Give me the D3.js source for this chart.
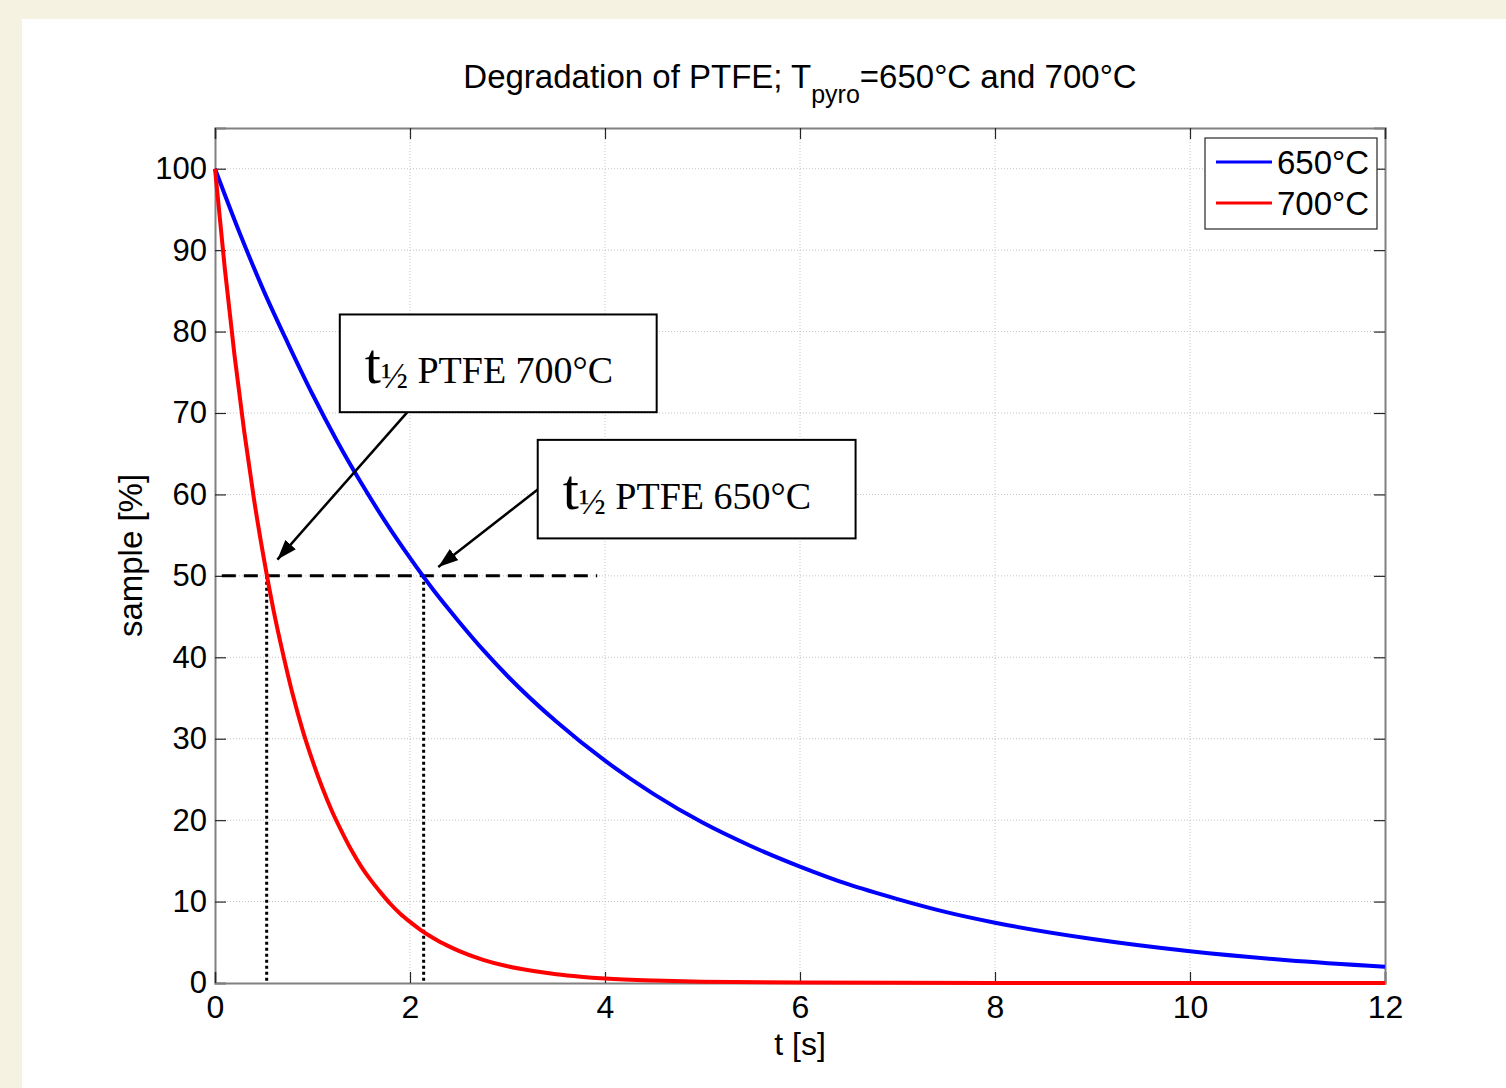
<!DOCTYPE html>
<html>
<head>
  <meta charset="utf-8">
  <script src="https://d3js.org/d3.v7.min.js"></script>
  <style>
    body { margin: 0; background: #f6f2e2; }
    #chart { position: absolute; left: 0; top: 0; }
  </style>
</head>
<body>
  <div id="chart"></div>
<script>
  // values
  const t650 = [0, 0.25, 0.5, 0.75, 1, 1.25, 1.5, 1.75, 2, 2.25, 2.5, 2.75, 3, 3.5, 4, 4.5, 5, 5.5, 6, 6.5, 7, 7.5, 8, 9, 10, 11, 12]
  const sample650 = [100, 92.2, 85, 78.5, 72.3, 66.6, 61.4, 56.6, 52.2, 48.1, 44.4, 40.9, 37.7, 32.1, 27.3, 23.2, 19.7, 16.8, 14.3, 12.1, 10.3, 8.7, 7.4, 5.4, 3.9, 2.8, 2.0]
  const t700 = [0, 0.1, 0.2, 0.3, 0.4, 0.5, 0.6, 0.7, 0.8, 0.9, 1, 1.1, 1.2, 1.3, 1.4, 1.5, 1.6, 1.7, 1.8, 1.9, 2, 2.1, 2.2, 2.3, 2.4, 2.5, 2.75, 3, 3.25, 3.5, 3.75, 4, 4.5, 5, 6, 8, 10, 12]
  const sample700 = [100, 87.8, 77.1, 67.7, 59.4, 52.2, 45.8, 40.3, 35.3, 31.0, 27.3, 24.0, 21.1, 18.6, 16.3, 14.3, 12.6, 11.1, 9.7, 8.5, 7.5, 6.6, 5.8, 5.1, 4.5, 3.95, 2.85, 2.05, 1.5, 1.08, 0.78, 0.56, 0.3, 0.15, 0.05, 0, 0, 0]
  const seriesNames = ["650°C", "700°C"]
  const seriesColors = ["#0000ff", "#ff0000"]
  const xTicks = [0, 2, 4, 6, 8, 10, 12]
  const yTicks = [0, 10, 20, 30, 40, 50, 60, 70, 80, 90, 100]
  const halfLevel = 50
  const halfLives = [0.53, 2.14]
  const dashRange = [0.07, 3.92]
  const notes = [
    { label: "PTFE 700°C", box: [1.28, 82.1, 4.53, 70.1], from: [1.98, 70.2], to: [0.64, 52.0] },
    { label: "PTFE 650°C", box: [3.31, 66.7, 6.57, 54.6], from: [3.31, 60.6], to: [2.29, 51.1] }
  ]

  const width = 1506
  const height = 1088
  const margin = { left: 215, right: 121, top: 128, bottom: 105 }

  const svg = d3.select("#chart").append("svg")
    .attr("width", width)
    .attr("height", height)
    .style("font-family", "'Liberation Sans', Arial, sans-serif")

  svg.append("rect").attr("width", width).attr("height", height).attr("fill", "#f6f2e2")
  svg.append("rect").attr("x", 22).attr("y", 19).attr("width", width - 22).attr("height", height - 19).attr("fill", "white")

  const x = d3.scaleLinear().domain([0, 12]).range([margin.left, width - margin.right])
  const y = d3.scaleLinear().domain([0, 105]).range([height - margin.bottom, margin.top])

  // grid
  svg.append("g").selectAll("line").data(xTicks.slice(1, -1)).join("line")
    .attr("x1", d => x(d)).attr("x2", d => x(d))
    .attr("y1", y(0)).attr("y2", y(105))
    .attr("stroke", "#c4c4c4").attr("stroke-dasharray", "1,2")
  svg.append("g").selectAll("line").data(yTicks.slice(1)).join("line")
    .attr("x1", x(0)).attr("x2", x(12))
    .attr("y1", d => y(d)).attr("y2", d => y(d))
    .attr("stroke", "#c4c4c4").attr("stroke-dasharray", "1,2")

  // axes with inward ticks
  const tickLen = 11
  const axisLeft = d3.axisLeft(y).tickValues(yTicks).tickSize(-tickLen).tickPadding(8)
  const axisBottom = d3.axisBottom(x).tickValues(xTicks).tickSize(-tickLen).tickPadding(12)
  const gy = svg.append("g").attr("transform", `translate(${x(0)},0)`).call(axisLeft)
  const gx = svg.append("g").attr("transform", `translate(0,${y(0)})`).call(axisBottom)
  svg.append("g").attr("transform", `translate(${x(12)},0)`)
    .call(d3.axisRight(y).tickValues(yTicks).tickSize(-tickLen).tickFormat(""))
  svg.append("g").attr("transform", `translate(0,${y(105)})`)
    .call(d3.axisTop(x).tickValues(xTicks).tickSize(-tickLen).tickFormat(""))
  svg.selectAll(".domain").attr("stroke", "#808080").attr("stroke-width", 2)
  svg.selectAll(".tick line").attr("stroke", "#262626").attr("stroke-width", 1.2)
  gy.selectAll("text").attr("font-size", 31).attr("fill", "black").attr("font-family", "'Liberation Sans', Arial")
  gx.selectAll("text").attr("font-size", 32).attr("fill", "black").attr("font-family", "'Liberation Sans', Arial")

  // half-life guides
  svg.append("line")
    .attr("x1", x(dashRange[0])).attr("x2", x(dashRange[1]))
    .attr("y1", y(halfLevel)).attr("y2", y(halfLevel))
    .attr("stroke", "black").attr("stroke-width", 3).attr("stroke-dasharray", "14,8")
  svg.append("g").selectAll("line").data(halfLives).join("line")
    .attr("x1", d => x(d)).attr("x2", d => x(d))
    .attr("y1", y(halfLevel)).attr("y2", y(0))
    .attr("stroke", "black").attr("stroke-width", 3).attr("stroke-dasharray", "3,3")

  // curves
  const line = d3.line().x(d => x(d[0])).y(d => y(d[1])).curve(d3.curveMonotoneX)
  const series = [d3.zip(t650, sample650), d3.zip(t700, sample700)]
  svg.append("g").selectAll("path").data(series).join("path")
    .attr("d", line)
    .attr("fill", "none")
    .attr("stroke", (d, i) => seriesColors[i])
    .attr("stroke-width", 4)

  // annotations
  svg.append("defs").append("marker")
    .attr("id", "head").attr("viewBox", "0 0 20 14")
    .attr("refX", 20).attr("refY", 7)
    .attr("markerWidth", 20).attr("markerHeight", 14)
    .attr("markerUnits", "userSpaceOnUse")
    .attr("orient", "auto")
    .append("path").attr("d", "M0,0 L20,7 L0,14 Z").attr("fill", "black")

  const note = svg.append("g").selectAll("g").data(notes).join("g")
  note.append("line")
    .attr("x1", d => x(d.from[0])).attr("y1", d => y(d.from[1]))
    .attr("x2", d => x(d.to[0])).attr("y2", d => y(d.to[1]))
    .attr("stroke", "black").attr("stroke-width", 2.5)
    .attr("marker-end", "url(#head)")
  note.append("rect")
    .attr("x", d => x(d.box[0])).attr("y", d => y(d.box[1]))
    .attr("width", d => x(d.box[2]) - x(d.box[0]))
    .attr("height", d => y(d.box[3]) - y(d.box[1]))
    .attr("fill", "white").attr("stroke", "black").attr("stroke-width", 2)
  const noteText = note.append("text")
    .attr("x", d => x(d.box[0]) + 25)
    .attr("y", d => y(d.box[1]) + 69)
    .attr("font-family", "'Liberation Serif', 'Times New Roman', serif")
  noteText.append("tspan").attr("font-size", 58).text("t")
  noteText.append("tspan").attr("font-size", 36).attr("dy", 5).text("½")
  noteText.append("tspan").attr("font-size", 38).attr("dy", -5).text(d => " " + d.label)

  // legend
  const legend = svg.append("g")
  legend.append("rect")
    .attr("x", 1205).attr("y", 138).attr("width", 172).attr("height", 91)
    .attr("fill", "white").attr("stroke", "#262626").attr("stroke-width", 1.2)
  const entry = legend.selectAll("g").data(seriesNames).join("g")
    .attr("transform", (d, i) => `translate(1216,${162 + i * 41})`)
  entry.append("line").attr("x1", 0).attr("x2", 56)
    .attr("stroke", (d, i) => seriesColors[i]).attr("stroke-width", 3)
  entry.append("text").attr("x", 61).attr("dy", "0.36em")
    .attr("font-size", 33).text(d => d)

  // title and axis labels
  const title = svg.append("text")
    .attr("x", x(6)).attr("y", 88)
    .attr("text-anchor", "middle").attr("font-size", 33)
  title.append("tspan").text("Degradation of PTFE; T")
  title.append("tspan").attr("font-size", 25).attr("dy", 15).text("pyro")
  title.append("tspan").attr("dy", -15).text("=650°C and 700°C")

  svg.append("text")
    .attr("x", x(6)).attr("y", 1055)
    .attr("text-anchor", "middle").attr("font-size", 32).text("t [s]")
  svg.append("text")
    .attr("transform", `translate(142,${y(52.5)}) rotate(-90)`)
    .attr("text-anchor", "middle").attr("font-size", 33).text("sample [%]")
</script>
</body>
</html>
